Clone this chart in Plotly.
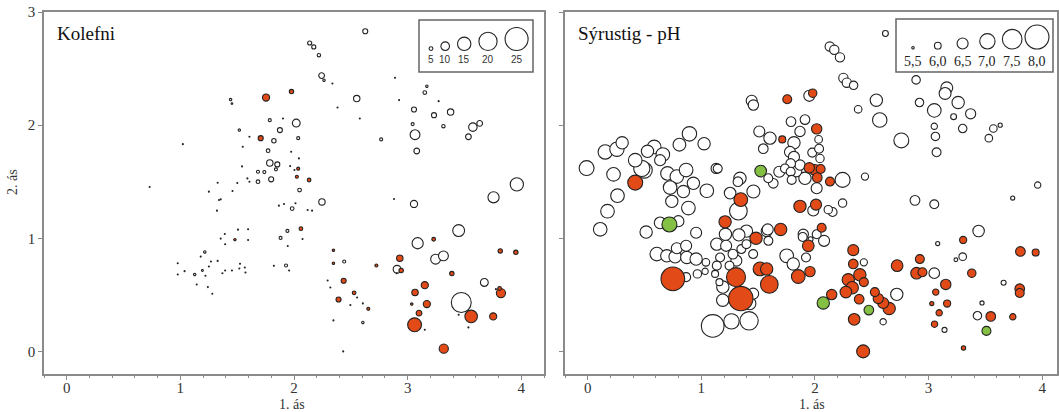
import plotly.graph_objects as go

W, H = 1059, 412

# ---------------- data: panel 1 (Kolefni, carbon %) ----------------
# group: o = open (white), r = orange
kol_x = [2.627, 2.138, 2.174, 2.219, 2.243, 2.264, 2.552, 3.151, 3.169, 3.056, 3.232, 3.378,
         3.044, 3.065, 3.080, 3.315, 3.574, 3.634, 3.535, 2.767, 3.961, 3.756, 3.056, 2.246,
         2.049, 2.020, 2.037, 1.876, 1.823, 1.787, 1.772, 1.787, 1.853, 1.841, 1.683, 1.739,
         1.683, 1.799, 1.984, 1.442, 1.454, 1.519, 1.942, 1.882, 1.930, 2.442, 2.606, 3.088,
         3.449, 3.246, 3.315, 2.907, 3.472, 3.675, 1.215, 1.194, 1.126,
         # orange
         1.754, 1.978, 1.707, 2.037, 2.025, 2.133, 2.061, 1.480, 2.347, 2.347, 2.437, 2.392,
         2.529, 2.654, 2.725, 2.931, 2.943, 3.229, 3.389, 3.065, 3.151, 3.169, 3.100, 3.036,
         3.061, 3.559, 3.753, 3.318, 3.815, 3.952, 3.821, 3.809,
         # tiny
         0.730, 1.022, 1.608, 1.549, 1.543, 1.608, 1.590, 1.501, 1.459, 1.328, 1.251, 1.355,
         1.340, 1.322, 1.903, 2.383, 2.338, 2.579, 2.889, 2.925, 3.273, 1.975, 2.043, 1.966,
         2.004, 1.867, 1.912, 2.013, 2.120, 2.159, 2.880, 2.075, 1.945, 1.823, 1.957, 1.391,
         1.355, 1.394, 1.507, 1.596, 1.596, 0.977, 0.977, 1.037, 1.179, 1.269, 1.328, 1.251,
         1.144, 1.242, 1.281, 1.221, 1.370, 1.394, 1.454, 1.519, 1.525, 1.567, 1.573, 2.296,
         2.320, 2.555, 2.496, 2.606, 2.347, 2.433, 2.904, 3.151, 3.449, 3.535, 3.777]
kol_y = [2.830, 2.726, 2.691, 2.618, 2.438, 2.397, 2.235, 2.288, 2.344, 2.138, 2.088, 2.115,
         2.009, 1.915, 1.771, 1.991, 1.982, 2.015, 1.897, 1.874, 1.476, 1.362, 1.303, 1.321,
         1.426, 2.018, 1.885, 1.956, 1.862, 2.044, 1.774, 1.665, 1.653, 1.609, 1.588, 1.585,
         1.500, 1.521, 1.262, 2.226, 2.191, 1.956, 1.065, 1.003, 0.759, 0.794, 0.256, 0.956,
         1.068, 0.815, 0.844, 0.726, 0.432, 0.609, 0.879, 0.715, 0.679,
         2.244, 2.297, 1.885, 1.615, 1.544, 1.515, 1.085, 0.988, 0.894, 0.779, 0.624, 0.459,
         0.518, 0.376, 0.759, 0.824, 0.715, 0.991, 0.688, 0.521, 0.585, 0.418, 0.338, 0.418,
         0.235, 0.309, 0.309, 0.024, 0.888, 0.876, 0.515, 0.556,
         1.453, 1.832, 1.897, 1.809, 1.635, 1.500, 1.529, 1.488, 1.418, 1.491, 1.412, 1.344,
         1.338, 1.244, 2.059, 2.156, 2.368, 2.059, 2.418, 2.221, 2.212, 1.765, 1.706, 1.638,
         1.603, 1.288, 1.303, 1.309, 1.250, 1.244, 1.347, 0.994, 0.932, 0.756, 0.715, 1.038,
         0.997, 0.947, 1.076, 1.079, 0.985, 0.779, 0.679, 0.709, 0.838, 0.794, 0.800, 0.750,
         0.591, 0.568, 0.509, 0.668, 0.691, 0.715, 0.715, 0.732, 0.774, 0.741, 0.697, 0.626,
         0.565, 0.476, 0.409, 0.424, 0.274, 0.000, 0.691, 0.191, 0.324, 0.212, 0.550]
kol_c = [6.3, 5.3, 5.3, 4.6, 7.0, 3.5, 7.7, 4.9, 3.5, 6.3, 6.3, 7.7,
         4.2, 11.3, 7.0, 4.6, 9.9, 7.0, 7.0, 4.2, 14.8, 12.7, 8.5, 7.7,
         4.9, 9.2, 4.2, 6.3, 5.6, 4.2, 4.9, 7.7, 6.3, 4.2, 4.2, 4.2,
         4.9, 6.3, 4.9, 3.5, 2.8, 3.5, 4.2, 4.2, 4.2, 4.2, 3.5, 12.7,
         13.4, 11.3, 11.3, 9.2, 21.8, 9.2, 3.5, 3.0, 3.5,
         8.5, 5.6, 6.3, 4.2, 4.2, 4.9, 4.9, 3.5, 3.5, 3.5, 6.3, 6.3,
         4.9, 4.2, 4.2, 7.7, 5.6, 4.9, 5.6, 7.7, 8.5, 8.5, 7.0, 3.5,
         15.5, 14.1, 8.5, 10.6, 5.6, 5.6, 10.6, 4.9] + [2.0] * 71
kol_group = ["o"] * 57 + ["r"] * 32 + ["o"] * 71

# ---------------- data: panel 2 (Sýrustig - pH) ----------------
ph_open_x = [2.62, 2.13, 2.17, 2.22, 2.25, 2.28, 2.34, 2.38, 2.54, 2.57, 2.76, 2.89, 2.92,
             3.16, 3.145, 3.05, 3.26, 3.37, 3.22, 3.05, 3.06, 3.07, 3.30, 3.57, 3.63, 3.53,
             2.44, 2.88, 3.05, 3.96, 3.74, 3.44, 3.08, 3.24, 3.30, 3.05, 2.72, 2.43, 2.60,
             3.66, 3.47, 3.43, 3.14,
             -0.01, 0.154, 0.257, 0.303, 0.227, 0.418, 0.497, 0.526, 0.585, 0.661, 0.637,
             0.807, 0.895, 1.024, 0.702, 0.784, 0.866, 0.725, 0.930, 1.048, 0.842, 0.740,
             0.886, 1.130, 0.262, 0.174, 0.110, 0.514, 0.637, 0.798, 0.954, 0.476, 0.608,
             0.696, 0.769, 0.784, 0.872, 0.954, 0.866, 0.866, 0.965, 1.033, 1.10, 1.136,
             1.165, 1.136, 1.121, 1.159, 1.188, 1.265, 1.42,
             1.040, 1.218, 1.212, 1.278, 1.248, 1.352, 1.397, 1.397, 1.575, 1.590, 1.456,
             1.308, 1.189, 1.456, 1.426,
             1.443, 1.458, 1.950, 1.510, 1.604, 1.545, 1.789, 1.912, 1.868, 2.032, 1.815,
             1.780, 1.815, 1.976, 2.044, 1.786, 1.868, 1.736, 1.786, 2.243, 2.015, 1.912,
             1.833, 1.686, 1.633, 1.795, 1.589, 1.340, 1.253, 1.458, 1.326, 1.985, 2.117,
             2.155, 2.243, 1.584, 1.330, 1.897, 2.015, 1.751, 1.809, 1.921, 1.892, 1.961,
             2.080, 1.144, 1.322, 2.036]
ph_open_y = [2.81, 2.695, 2.666, 2.599, 2.417, 2.375, 2.352, 2.14, 2.22, 2.045, 1.865, 2.40,
             2.20, 2.33, 2.28, 2.13, 2.20, 2.10, 2.075, 1.99, 1.90, 1.76, 1.97, 1.97, 2.00,
             1.885, 1.545, 1.335, 1.30, 1.47, 1.355, 1.064, 0.953, 0.81, 0.837, 0.691, 0.504,
             0.787, 0.262, 0.607, 0.428, 0.315, 0.19,
             1.62, 1.763, 1.787, 1.844, 1.565, 1.690, 1.603, 1.769, 1.807, 1.740, 1.690,
             1.827, 1.923, 1.836, 1.573, 1.545, 1.603, 1.448, 1.486, 1.420, 1.413, 1.326,
             1.267, 1.617, 1.376, 1.239, 1.079, 1.055, 1.136, 1.151, 1.049, 1.617, 0.860,
             0.845, 0.836, 0.912, 0.830, 0.816, 0.933, 0.656, 0.685, 0.708, 0.225, 0.948,
             0.830, 0.758, 0.685, 0.612, 0.452, 0.265, 0.27,
             0.787, 0.933, 1.035, 0.860, 0.758, 0.904, 0.948, 1.063, 1.063, 0.977, 0.860,
             0.802, 0.569, 0.510, 0.423,
             2.215, 2.177, 2.259, 1.944, 1.885, 1.792, 2.031, 2.049, 1.944, 1.874, 1.844,
             1.763, 1.719, 1.757, 1.705, 1.661, 1.647, 1.617, 1.588, 1.516, 1.442, 1.530,
             1.594, 1.588, 1.486, 1.516, 1.530, 1.530, 1.399, 1.413, 1.239, 1.245, 1.253,
             1.232, 1.311, 1.078, 1.030, 1.035, 1.035, 0.845, 0.773, 0.830, 1.011, 0.991,
             0.977, 1.616, 1.500, 1.791]
ph_open_v = [5.9, 6.3, 6.3, 6.3, 6.3, 6.3, 6.2, 6.1, 6.65, 6.9, 6.95, 6.2, 6.2,
             6.6, 6.6, 6.8, 6.65, 6.4, 5.9, 5.95, 6.2, 6.25, 6.2, 6.1, 5.7, 6.1,
             6.05, 6.35, 6.25, 5.95, 5.7, 6.55, 5.7, 5.65, 6.1, 6.45, 6.65, 6.05, 5.95,
             5.8, 5.7, 6.2, 5.8,
             6.95, 6.88, 6.88, 6.65, 6.8, 6.8, 7.1, 6.65, 6.8, 6.8, 6.5,
             6.7, 6.9, 6.65, 6.8, 6.8, 6.8, 6.8, 6.65, 6.8, 6.65, 6.65,
             6.8, 6.4, 6.8, 6.8, 6.8, 6.65, 6.57, 6.5, 6.5, 7.1, 6.8,
             6.65, 6.65, 6.5, 6.65, 6.65, 6.5, 6.26, 6.19, 5.95, 7.85, 6.65,
             6.26, 6.26, 6.03, 6.03, 6.65, 7.0, 7.35,
             6.1, 6.5, 6.65, 6.35, 6.25, 6.25, 6.25, 6.65, 6.5, 6.25, 6.25,
             6.5, 6.65, 6.5, 6.65,
             6.5, 6.42, 6.5, 6.5, 6.65, 6.34, 6.34, 6.34, 6.42, 6.11, 6.65,
             6.5, 6.5, 6.26, 6.19, 6.34, 6.42, 6.26, 6.26, 6.96, 6.5, 6.65,
             6.57, 6.5, 6.34, 6.26, 6.26, 6.65, 6.57, 6.73, 7.27, 6.5, 6.19,
             6.26, 6.19, 6.5, 6.65, 6.42, 6.26, 6.81, 6.65, 6.26, 6.26, 5.8,
             6.5, 6.26, 6.34, 6.26]

ph_orange_x = [1.756, 1.980, 1.712, 2.015, 1.950, 2.000, 2.050, 2.020, 2.132, 0.418, 1.347,
               1.209, 1.868, 2.009, 1.698, 1.481, 2.059, 1.941, 1.516, 1.575, 1.305, 1.598,
               1.347, 0.749, 1.853, 1.956, 2.337, 2.337, 2.395, 2.293, 2.272, 2.328, 2.389,
               2.430, 2.147, 2.345, 2.424, 2.527, 2.557, 2.600, 2.653, 2.723, 2.923, 2.894,
               2.946, 3.151, 3.063, 3.028, 3.163, 3.093, 3.052, 3.304, 3.380, 3.808, 3.942,
               3.802, 3.802, 3.547, 3.741, 3.307]
ph_orange_y = [2.229, 2.282, 1.874, 1.967, 1.623, 1.603, 1.612, 1.536, 1.501, 1.492, 1.341,
               1.145, 1.282, 1.297, 1.078, 1.000, 1.093, 0.933, 0.729, 0.729, 0.656, 0.592,
               0.467, 0.641, 0.662, 0.705, 0.895, 0.773, 0.677, 0.633, 0.524, 0.563, 0.461,
               0.612, 0.502, 0.283, 0.000, 0.524, 0.467, 0.428, 0.379, 0.758, 0.816, 0.691,
               0.699, 0.592, 0.524, 0.423, 0.423, 0.341, 0.240, 0.985, 0.691, 0.883, 0.874,
               0.554, 0.516, 0.309, 0.306, 0.030]
ph_orange_v = [6.26, 6.19, 6.03, 6.42, 6.42, 6.5, 6.26, 6.34, 6.26, 6.96, 6.81,
               6.65, 6.65, 6.5, 6.65, 6.65, 6.26, 6.57, 6.81, 6.65, 7.43, 7.27,
               8.05, 7.97, 6.81, 6.42, 6.5, 6.34, 6.65, 6.65, 6.57, 6.65, 6.34,
               6.26, 6.42, 6.57, 6.73, 6.26, 6.4, 6.5, 6.65, 6.57, 6.26, 6.57,
               6.26, 6.42, 5.95, 5.7, 6.05, 5.95, 5.95, 6.05, 6.19, 6.34, 6.03,
               6.34, 6.26, 6.34, 5.95, 5.72]

ph_green_x = [0.719, 1.522, 2.073, 2.474, 3.509]
ph_green_y = [1.122, 1.594, 0.428, 0.365, 0.181]
ph_green_v = [6.96, 6.57, 6.65, 6.34, 6.26]

# legend keys
kol_legend = [5, 10, 15, 20, 25]
ph_legend = [5.5, 6.0, 6.5, 7.0, 7.5, 8.0]
ph_legend_labels = ["5,5", "6,0", "6,5", "7,0", "7,5", "8,0"]

# ---------------- styling ----------------
ORANGE = "#E24A17"
GREEN = "#84C043"
EDGE = "#222222"
AXCOL = "#8a8a8a"
SERIF = "Liberation Serif, Times New Roman, serif"
SANS = "Liberation Sans, Arial, sans-serif"


def kol_d(c):
    return max(0.96 * c - 1.0, 1.0)


def ph_d(v):
    return max(8.6 * (v - 5.1) - 1.0, 1.0)


def fx(px):
    return px / W


def fy(py):
    return 1 - py / H


fig = go.Figure()

# panel 1
for grp, fill in [("o", "white"), ("r", ORANGE)]:
    idx = [i for i, g in enumerate(kol_group) if g == grp]
    idx.sort(key=lambda i: -kol_c[i])
    fig.add_trace(go.Scatter(
        x=[kol_x[i] for i in idx], y=[kol_y[i] for i in idx], mode="markers",
        marker=dict(size=[kol_d(kol_c[i]) for i in idx], sizemode="diameter",
                    color=fill, line=dict(color=EDGE, width=1.1), opacity=1),
        xaxis="x", yaxis="y", showlegend=False, hoverinfo="skip", opacity=1))

# panel 2
for xs, ys, vs, fill in [(ph_open_x, ph_open_y, ph_open_v, "white"),
                         (ph_orange_x, ph_orange_y, ph_orange_v, ORANGE),
                         (ph_green_x, ph_green_y, ph_green_v, GREEN)]:
    idx = sorted(range(len(xs)), key=lambda i: -vs[i])
    fig.add_trace(go.Scatter(
        x=[xs[i] for i in idx], y=[ys[i] for i in idx], mode="markers",
        marker=dict(size=[ph_d(vs[i]) for i in idx], sizemode="diameter",
                    color=fill, line=dict(color=EDGE, width=1.1), opacity=1),
        xaxis="x2", yaxis="y2", showlegend=False, hoverinfo="skip", opacity=1))

# legend keys on a pixel-space overlay axis
lx, prev_r, gap = 431.0, None, 7.0
kx = []
for c in kol_legend:
    r = (kol_d(c) + 1) / 2
    if prev_r is not None:
        lx = lx + prev_r + gap + r
    kx.append(lx)
    prev_r = r
k_bottom = 51.0
fig.add_trace(go.Scatter(
    x=kx, y=[k_bottom - (kol_d(c) + 1) / 2 for c in kol_legend], mode="markers",
    marker=dict(size=[kol_d(c) for c in kol_legend], sizemode="diameter", color="white",
                line=dict(color=EDGE, width=1.1), opacity=1),
    xaxis="x3", yaxis="y3", showlegend=False, hoverinfo="skip"))
for c, x in zip(kol_legend, kx):
    fig.add_annotation(x=fx(x), y=fy(60), xref="paper", yref="paper", text=str(c),
                       showarrow=False, font=dict(family=SANS, size=10, color="#333"),
                       xanchor="center", yanchor="middle")

p0, pstep = 913.0, 24.8
px_ = [p0 + i * pstep for i in range(len(ph_legend))]
p_bottom = 49.5
fig.add_trace(go.Scatter(
    x=px_, y=[p_bottom - (ph_d(v) + 1) / 2 for v in ph_legend], mode="markers",
    marker=dict(size=[ph_d(v) for v in ph_legend], sizemode="diameter", color="white",
                line=dict(color=EDGE, width=1.1), opacity=1),
    xaxis="x3", yaxis="y3", showlegend=False, hoverinfo="skip"))
for lab, x in zip(ph_legend_labels, px_):
    fig.add_annotation(x=fx(x), y=fy(62), xref="paper", yref="paper", text=lab,
                       showarrow=False, font=dict(family=SERIF, size=14, color="#222"),
                       xanchor="center", yanchor="middle")

# legend boxes
fig.add_shape(type="rect", xref="paper", yref="paper", x0=fx(419), x1=fx(533),
              y0=fy(72), y1=fy(20), line=dict(color="#666", width=1.5))
fig.add_shape(type="rect", xref="paper", yref="paper", x0=fx(896), x1=fx(1053),
              y0=fy(72), y1=fy(19), line=dict(color="#666", width=1.5))

# panel titles / axis titles
fig.add_annotation(x=fx(55), y=fy(34), xref="paper", yref="paper", text="Kolefni",
                   showarrow=False, font=dict(family=SERIF, size=19, color="#111"),
                   xanchor="left", yanchor="middle")
fig.add_annotation(x=fx(576), y=fy(34), xref="paper", yref="paper", text="Sýrustig - pH",
                   showarrow=False, font=dict(family=SERIF, size=19, color="#111"),
                   xanchor="left", yanchor="middle")
fig.add_annotation(x=fx(292), y=fy(404), xref="paper", yref="paper", text="1. ás",
                   showarrow=False, font=dict(family=SERIF, size=14, color="#333"),
                   xanchor="center", yanchor="middle")
fig.add_annotation(x=fx(812), y=fy(404), xref="paper", yref="paper", text="1. ás",
                   showarrow=False, font=dict(family=SERIF, size=14, color="#333"),
                   xanchor="center", yanchor="middle")
fig.add_annotation(x=fx(12), y=fy(182), xref="paper", yref="paper", text="2. ás",
                   showarrow=False, textangle=-90,
                   font=dict(family=SERIF, size=14, color="#333"),
                   xanchor="center", yanchor="middle")

top, bottom = 12, 374
ydom = [fy(bottom), fy(top)]
common_x = dict(tick0=0, dtick=1, ticks="outside", ticklen=4, tickwidth=1, tickcolor=AXCOL,
                showline=True, linecolor=AXCOL, linewidth=1.5, mirror=True,
                showgrid=False, zeroline=False, automargin=False, ticklabelstandoff=-5,
                tickfont=dict(family=SERIF, size=15, color="#333"),
                minor=dict(dtick=0.2, tick0=0, ticks="outside", ticklen=2,
                           tickcolor=AXCOL, showgrid=False))
common_y = dict(range=[-0.2, 3.0], tick0=0, dtick=1, ticks="outside", ticklen=4,
                tickwidth=1, tickcolor=AXCOL, showline=True, linecolor=AXCOL,
                linewidth=1.5, mirror=True, showgrid=False, zeroline=False,
                automargin=False,
                tickfont=dict(family=SERIF, size=15, color="#333"))

fig.update_layout(
    width=W, height=H, margin=dict(l=0, r=0, t=0, b=0, autoexpand=False),
    paper_bgcolor="white", plot_bgcolor="rgba(0,0,0,0)",
    xaxis=dict(domain=[fx(44), fx(544)], range=[-0.2, 4.2], anchor="y", **common_x),
    yaxis=dict(domain=ydom, anchor="x", **common_y),
    xaxis2=dict(domain=[fx(565), fx(1057)], range=[-0.2, 4.13], anchor="y2", **common_x),
    yaxis2=dict(domain=ydom, anchor="x2", showticklabels=False, **common_y),
    xaxis3=dict(domain=[0, 1], range=[0, W], visible=False, anchor="y3", automargin=False),
    yaxis3=dict(domain=[0, 1], range=[H, 0], visible=False, anchor="x3", automargin=False),
)

fig.write_html("out.html", config={"displayModeBar": False},
               post_script="document.body.style.margin='0';"
                           "document.body.style.overflow='hidden';")
